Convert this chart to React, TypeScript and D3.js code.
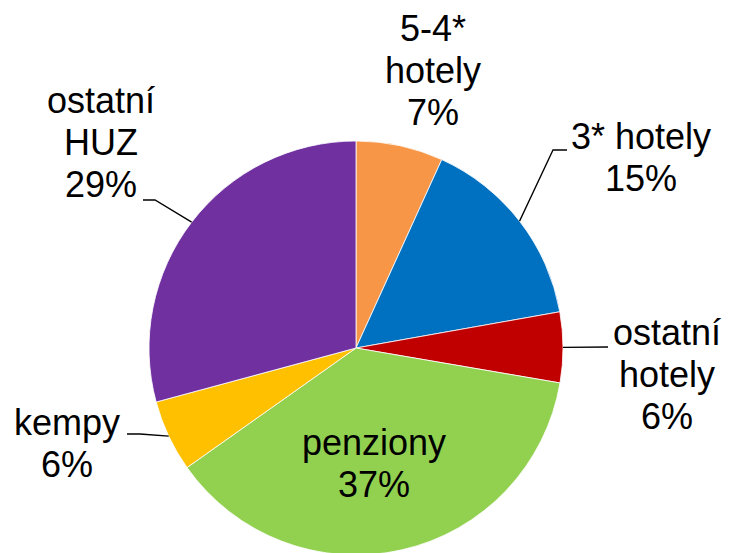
import React from 'react';
import * as d3 from 'd3';

// Share of accommodation capacity by type
const categories = ['5-4* hotely', '3* hotely', 'ostatní hotely', 'penziony', 'kempy', 'ostatní HUZ'];
const values = [6.8, 15.4, 5.5, 37.5, 5.6, 29.2];
const percentLabels = ['7%', '15%', '6%', '37%', '6%', '29%'];
const colors = ['#F79646', '#0070C0', '#C00000', '#92D050', '#FFC000', '#7030A0'];

const labelLines = [
  ['5-4*', 'hotely'],
  ['3* hotely'],
  ['ostatní', 'hotely'],
  ['penziony'],
  ['kempy'],
  ['ostatní', 'HUZ'],
];

// label layout: text centre x, first baseline y, and leader elbow (null = no leader)
const labelLayout = [
  { x: 433, y: 41, elbow: null },
  { x: 641, y: 149, elbow: [[553, 150], [567, 150]] },
  { x: 667, y: 345, elbow: [[608, 347]] },
  { x: 374, y: 455, elbow: null },
  { x: 67, y: 435, elbow: [[140, 434], [127, 434]] },
  { x: 101, y: 113, elbow: [[155, 200], [143, 200]] },
];

const W = 731;
const H = 553;
const cx = 356;
const cy = 348;
const R = 207;
const fontSize = 36;
const lineH = 42;

export default function App() {
  const pie = d3.pie<number>().sort(null).value(d => d);
  const arcs = pie(values);
  const arc = d3.arc<d3.PieArcDatum<number>>().innerRadius(0).outerRadius(R);

  return (
    <div style={{ position: 'absolute', left: 0, top: 0 }}>
      <svg width={W} height={H} style={{ display: 'block', background: '#fff' }}>
        <g transform={`translate(${cx},${cy})`}>
          {arcs.map((a, i) => (
            <path key={categories[i]} d={arc(a) || ''} fill={colors[i]} stroke="#fff" strokeWidth={0.8} />
          ))}
        </g>
        {arcs.map((a, i) => {
          const lay = labelLayout[i];
          if (!lay.elbow) return null;
          const mid = (a.startAngle + a.endAngle) / 2;
          const start: [number, number] = [cx + R * Math.sin(mid), cy - R * Math.cos(mid)];
          const pts = [start, ...(lay.elbow as [number, number][])];
          return (
            <path key={'l' + i} d={d3.line()(pts) || ''} fill="none" stroke="#000" strokeWidth={1.3} />
          );
        })}
        {labelLayout.map((lay, i) => {
          const lines = [...labelLines[i], percentLabels[i]];
          return (
            <text
              key={'t' + i}
              x={lay.x}
              y={lay.y}
              textAnchor="middle"
              fontFamily="Liberation Sans, Arial, sans-serif"
              fontSize={fontSize}
              fill="#000"
            >
              {lines.map((s, j) => (
                <tspan key={j} x={lay.x} dy={j === 0 ? 0 : lineH}>{s}</tspan>
              ))}
            </text>
          );
        })}
      </svg>
    </div>
  );
}
